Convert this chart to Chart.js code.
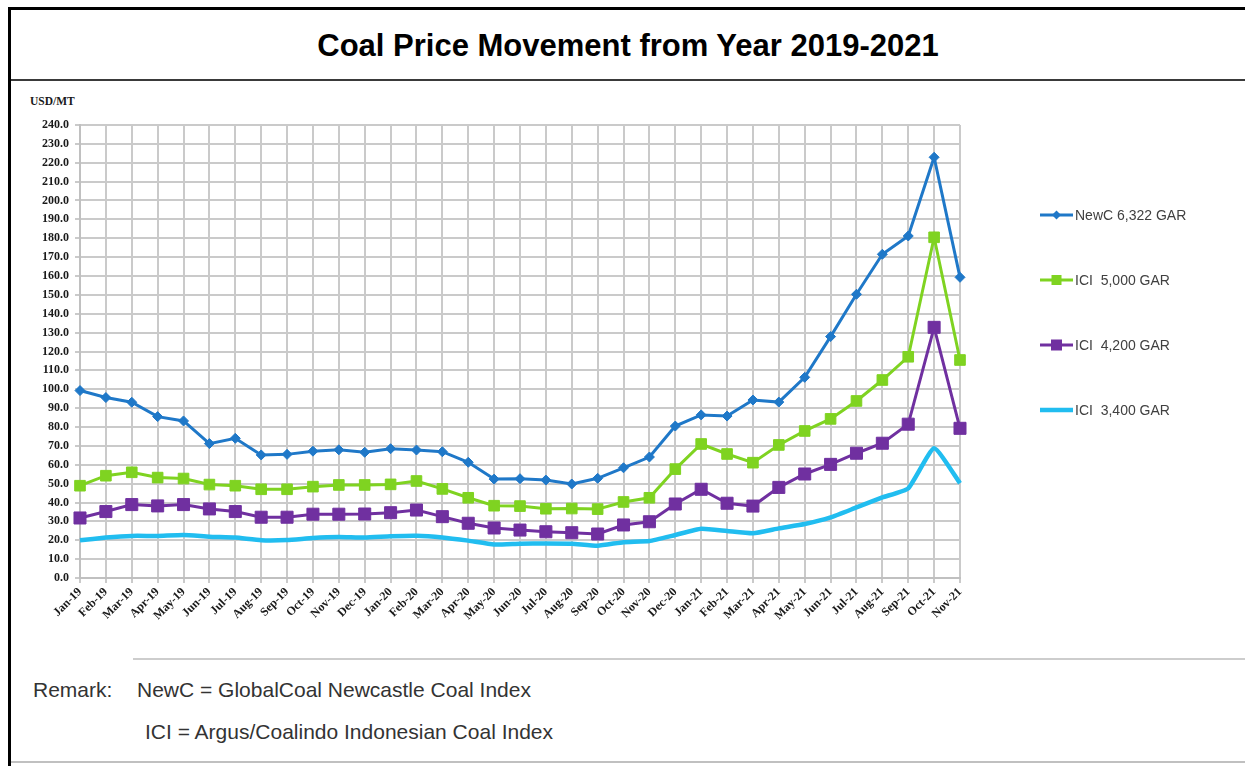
<!DOCTYPE html>
<html>
<head>
<meta charset="utf-8">
<title>Coal Price Movement from Year 2019-2021</title>
<script src="https://cdn.jsdelivr.net/npm/chart.js@4.4.1/dist/chart.umd.min.js"></script>
<style>
html,body{margin:0;padding:0;background:#fff;width:1245px;height:766px;overflow:hidden;}
#frameTop{position:absolute;left:8px;top:7px;width:1237px;height:3px;background:#000;}
#frameLeft{position:absolute;left:8px;top:7px;width:3px;height:759px;background:#000;}
#titleLine{position:absolute;left:11px;top:79px;width:1234px;height:2px;background:#3a3a3a;}
#title{position:absolute;left:11px;top:11px;width:1234px;height:69px;display:flex;align-items:center;justify-content:center;font:bold 31px "Liberation Sans",Arial,sans-serif;color:#000;}
#unit{position:absolute;left:30px;top:95px;font:bold 11.5px "Liberation Serif","Times New Roman",serif;color:#1a1a1a;}
#chartBox{position:absolute;left:12px;top:84px;width:1233px;height:554px;}
#remarkLine{position:absolute;left:133px;top:658px;width:1112px;height:2px;background:#cdcdcd;}
#bottomLine{position:absolute;left:11px;top:761px;width:1234px;height:2px;background:#c0c0c0;}
.rm{position:absolute;font:21px "Liberation Sans",Arial,sans-serif;color:#333;white-space:nowrap;line-height:22px;}
</style>
</head>
<body>
<div id="frameTop"></div>
<div id="frameLeft"></div>
<div id="title">Coal Price Movement from Year 2019-2021</div>
<div id="titleLine"></div>
<div id="unit">USD/MT</div>
<div id="chartBox"><canvas id="c"></canvas></div>
<div id="remarkLine"></div>
<div class="rm" style="left:33px;top:679px;">Remark:</div>
<div class="rm" style="left:137px;top:679px;">NewC = GlobalCoal Newcastle Coal Index</div>
<div class="rm" style="left:145px;top:721px;">ICI = Argus/Coalindo Indonesian Coal Index</div>
<div id="bottomLine"></div>
<script>
const categories = ['Jan-19','Feb-19','Mar-19','Apr-19','May-19','Jun-19','Jul-19','Aug-19','Sep-19','Oct-19','Nov-19','Dec-19',
  'Jan-20','Feb-20','Mar-20','Apr-20','May-20','Jun-20','Jul-20','Aug-20','Sep-20','Oct-20','Nov-20','Dec-20',
  'Jan-21','Feb-21','Mar-21','Apr-21','May-21','Jun-21','Jul-21','Aug-21','Sep-21','Oct-21','Nov-21'];

const newc6322 = [99.3,95.6,93.1,85.5,83.2,71.2,74.0,65.2,65.5,67.2,67.9,66.6,
  68.5,67.8,66.9,61.3,52.4,52.6,51.9,49.8,52.8,58.4,64.1,80.5,
  86.4,85.8,94.3,93.2,106.3,127.9,150.3,171.5,181.2,222.9,159.3];

const ici5000 = [48.9,54.2,56.0,53.2,52.7,49.5,48.9,47.0,47.0,48.4,49.3,49.3,
  49.6,51.4,47.2,42.5,38.3,38.1,36.7,36.8,36.5,40.3,42.5,57.7,
  71.0,65.7,61.1,70.5,77.9,84.3,93.8,104.9,117.2,180.5,115.5];

const ici4200 = [31.8,35.2,38.9,38.2,38.9,36.6,35.2,32.2,32.2,33.8,33.8,33.9,
  34.6,36.0,32.5,29.0,26.5,25.4,24.5,24.0,23.3,28.1,29.8,39.2,
  47.0,39.6,38.1,48.0,55.1,60.2,66.1,71.4,81.5,132.8,79.3];

const ici3400 = [20.0,21.4,22.3,22.3,22.8,21.9,21.4,20.0,20.1,21.2,21.7,21.4,
  22.1,22.4,21.5,19.8,17.8,18.2,18.3,18.2,17.1,19.0,19.6,22.8,
  26.1,24.9,23.7,26.3,28.6,32.1,37.4,42.7,47.5,68.7,50.2];

const seriesLabels = ['NewC 6,322 GAR','ICI  5,000 GAR','ICI  4,200 GAR','ICI  3,400 GAR'];
const yMin = 0, yMax = 240, yStep = 10;

const tickFont = {family:'"Liberation Serif","Times New Roman",serif', weight:'bold', size:12};

const sideLegend = {
  id:'sideLegend',
  afterDraw(chart){
    const {ctx, chartArea} = chart;
    const legendMarks = [
      {shape:'diamond', r:4.5},
      {shape:'square', r:5},
      {shape:'square', r:5.5},
      {shape:'none', r:0}
    ];
    ctx.save();
    chart.data.datasets.forEach((ds,i)=>{
      const y = chartArea.top + 90 + 65*i;
      const x0 = chartArea.right + 80, x1 = chartArea.right + 113;
      const xm = (x0+x1)/2;
      ctx.strokeStyle = ds.borderColor;
      ctx.lineWidth = ds.borderWidth;
      ctx.beginPath(); ctx.moveTo(x0,y); ctx.lineTo(x1,y); ctx.stroke();
      const m = legendMarks[i];
      ctx.fillStyle = ds.borderColor;
      if (m.shape==='diamond'){
        ctx.beginPath(); ctx.moveTo(xm,y-m.r); ctx.lineTo(xm+m.r,y); ctx.lineTo(xm,y+m.r); ctx.lineTo(xm-m.r,y); ctx.closePath(); ctx.fill();
      } else if (m.shape==='square'){
        ctx.fillRect(xm-m.r,y-m.r,2*m.r,2*m.r);
      }
      ctx.fillStyle = '#404040';
      ctx.font = '14px "Liberation Sans",Arial,sans-serif';
      ctx.textBaseline = 'middle';
      ctx.textAlign = 'left';
      ctx.fillText(ds.label, x1+2, y+1);
    });
    ctx.restore();
  }
};

new Chart(document.getElementById('c'), {
  type:'line',
  data:{
    labels:categories,
    datasets:[
      {label:seriesLabels[0], data:newc6322, borderColor:'#1f78c8', backgroundColor:'#1f78c8', borderWidth:3,
       pointStyle:'rectRot', pointRadius:5, pointHoverRadius:5, pointBorderWidth:1, tension:0},
      {label:seriesLabels[1], data:ici5000, borderColor:'#7fd321', backgroundColor:'#7fd321', borderWidth:3,
       pointStyle:'rect', pointRadius:7.5, pointHoverRadius:7.5, pointBorderWidth:1, tension:0},
      {label:seriesLabels[2], data:ici4200, borderColor:'#7030a0', backgroundColor:'#7030a0', borderWidth:3,
       pointStyle:'rect', pointRadius:8.5, pointHoverRadius:8.5, pointBorderWidth:1, tension:0},
      {label:seriesLabels[3], data:ici3400, borderColor:'#21bdf0', backgroundColor:'#21bdf0', borderWidth:4.5,
       pointRadius:0, pointHoverRadius:0, tension:0.15}
    ]
  },
  options:{
    responsive:true,
    maintainAspectRatio:false,
    animation:false,
    events:[],
    layout:{padding:{left:0, top:41, right:285, bottom:0}},
    plugins:{legend:{display:false}, tooltip:{enabled:false}},
    scales:{
      x:{
        offset:false,
        grid:{color:'#cacaca', lineWidth:2, tickLength:5, drawTicks:true},
        border:{color:'#c0c0c0', width:2},
        ticks:{autoSkip:false, minRotation:45, maxRotation:45, font:tickFont, color:'#1a1a1a', padding:2},
        afterFit(s){ s.height = 60; }
      },
      y:{
        min:yMin, max:yMax,
        grid:{color:'#cacaca', lineWidth:2, tickLength:5, drawTicks:true},
        border:{color:'#c0c0c0', width:2},
        ticks:{stepSize:yStep, font:tickFont, color:'#1a1a1a', padding:6, callback:v=>Number(v).toFixed(1)},
        afterFit(s){ s.width = 68; }
      }
    }
  },
  plugins:[sideLegend]
});
</script>
</body>
</html>
